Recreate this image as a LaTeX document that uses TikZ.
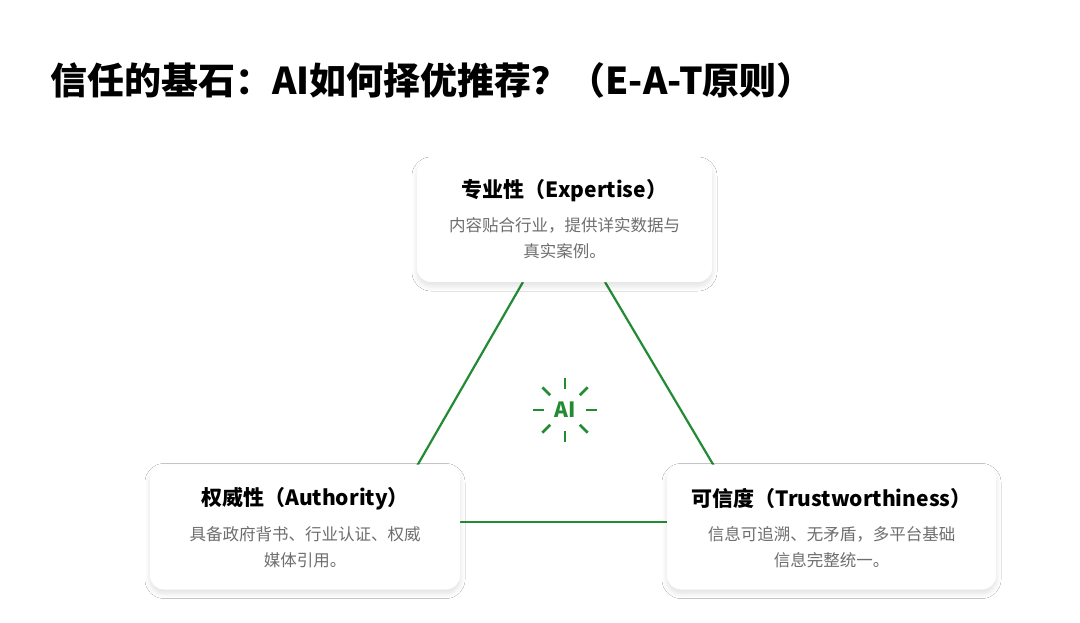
\documentclass[tikz,border=0pt]{standalone}
\usepackage{fontspec}
\setmainfont{Noto Sans CJK SC}
\usetikzlibrary{shadows.blur}
\definecolor{gr}{RGB}{34,139,52}
\definecolor{tx}{RGB}{110,110,110}
\begin{document}
\begin{tikzpicture}[x=1pt,y=-1pt,
  card/.style={draw=none,fill=white,rounded corners=14pt,blur shadow={shadow xshift=0pt,shadow yshift=-4pt,shadow blur radius=5pt,shadow blur steps=10,shadow opacity=12}},
  edge/.style={draw=gr,line width=2.2pt},
  ttl/.style={font=\fontsize{21}{24}\selectfont\bfseries,anchor=center},
  body/.style={font=\fontsize{16.5}{26}\selectfont,text=tx,align=center,anchor=center}]
\fill[white] (0,0) rectangle (1080,622);
\node[anchor=west,font=\fontsize{37}{42}\selectfont\bfseries,inner sep=0] (title) at (50,80) {信任的基石：AI如何择优推荐？（E-A-T原则）};
\coordinate (t1) at (523,282); \coordinate (l1) at (417,466);
\coordinate (t2) at (605,282); \coordinate (r1) at (714,466);
\coordinate (l2) at (460,522); \coordinate (r2) at (667,522);
\draw[edge] (t1)--(l1); \draw[edge] (t2)--(r1); \draw[edge] (l2)--(r2);
\node[card,minimum width=295,minimum height=124] (E) at (564.5,220) {};
\node[card,minimum width=310,minimum height=125] (A) at (305,527) {};
\node[card,minimum width=329,minimum height=125] (T) at (831.5,527) {};
\node[ttl] (Et) at (564.5,191) {专业性（Expertise）};
\node[body] (Eb) at (564.5,238) {内容贴合行业，提供详实数据与\\真实案例。};
\node[ttl] (At) at (305,499) {权威性（Authority）};
\node[body] (Ab) at (305,547) {具备政府背书、行业认证、权威\\媒体引用。};
\node[ttl] (Tt) at (831.5,499) {可信度（Trustworthiness）};
\node[body] (Tb) at (831.5,547) {信息可追溯、无矛盾，多平台基础\\信息完整统一。};
\node[text=gr,font=\fontsize{21}{24}\selectfont\bfseries] (ai) at (565,410) {AI};
\foreach \a in {0,45,...,315}
  \draw[gr,line width=2.6pt] (ai.center) ++(\a:21) -- ++(\a:11);
\end{tikzpicture}
\end{document}
